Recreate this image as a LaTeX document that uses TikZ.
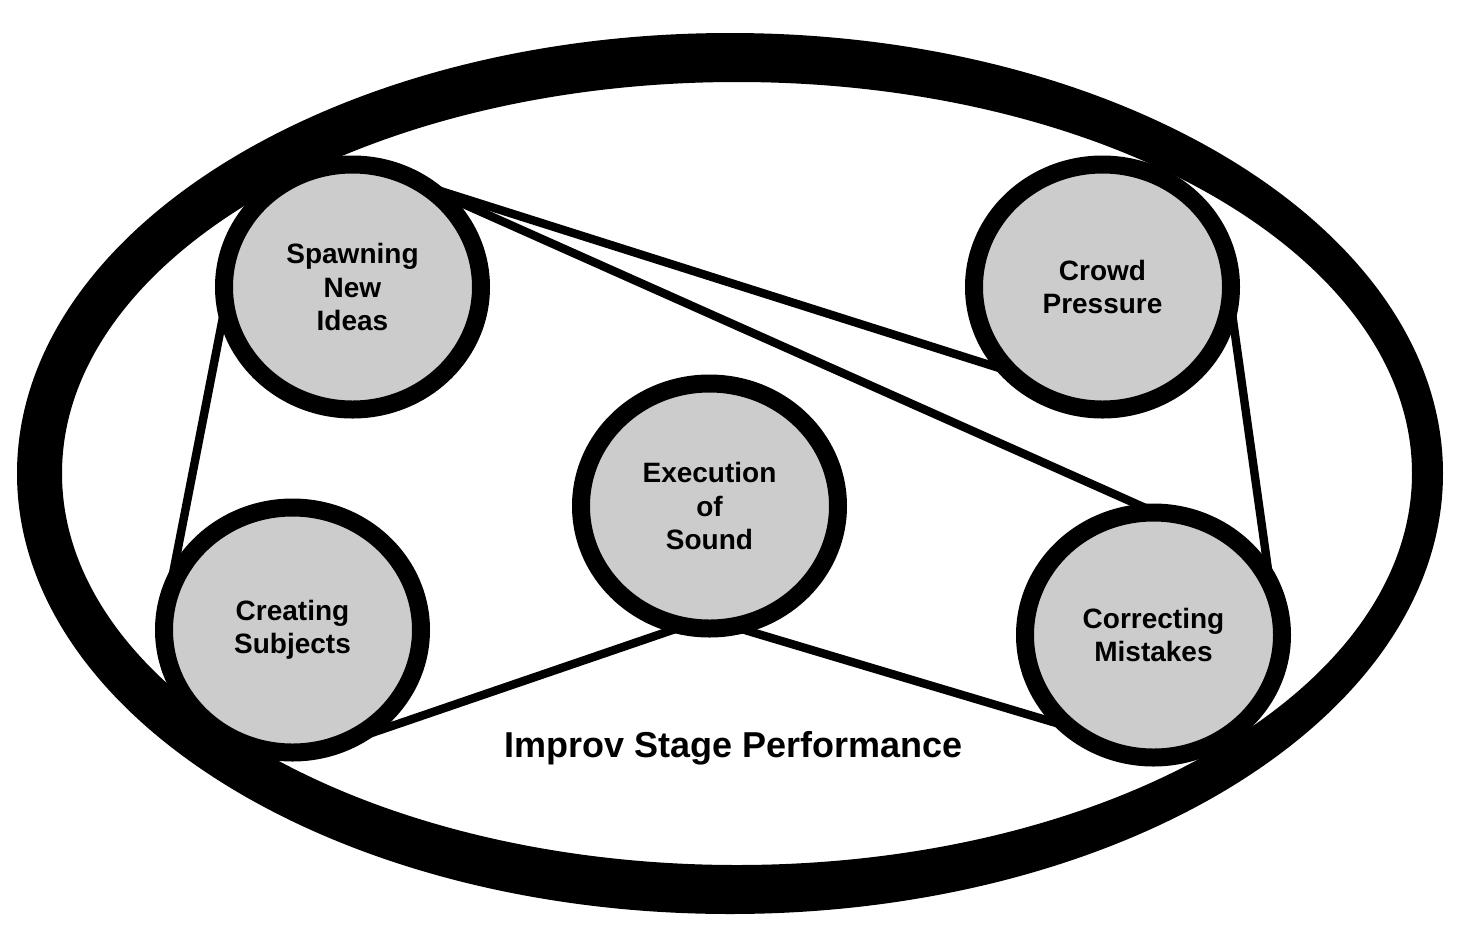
\documentclass[tikz,border=0pt]{standalone}
\usepackage{fontspec}
\setmainfont{Liberation Sans}
\usetikzlibrary{shapes.geometric,backgrounds}
\definecolor{circfill}{RGB}{204,204,204}
\tikzset{
  topic/.style={ellipse, draw=black, fill=circfill, line width=9pt,
    minimum width=128.5pt, minimum height=122.5pt, inner sep=0pt, outer sep=0pt,
    align=center, font=\fontsize{14}{16.75}\selectfont\bfseries},
  link/.style={draw=black, line width=4.2pt},
  ring/.style={fill=black, even odd rule}
}
\begin{document}
\begin{tikzpicture}[x=0.5pt,y=-0.5pt]
\useasboundingbox (0,0) rectangle (1464,944);
\fill[ring] (730,473.5) ellipse [x radius=713, y radius=440.5]
            (737,473.5) ellipse [x radius=675, y radius=391.5];
\node[topic] (sp) at (352.5,287) {Spawning\\New\\Ideas};
\node[topic] (cp) at (1102.5,287) {Crowd\\Pressure};
\node[topic] (ex) at (709.5,506) {Execution\\of\\Sound};
\node[topic] (cs) at (292.5,630) {Creating\\Subjects};
\node[topic] (cm) at (1153.5,635) {Correcting\\Mistakes};
\node[font=\fontsize{18}{22}\selectfont\bfseries] (title) at (733.5,748) {Improv Stage Performance};
\begin{pgfonlayer}{background}
\draw[link] (sp.54) -- (cp.222);
\draw[link] (sp.52) -- (cm.89);
\draw[link] (sp.188) -- (cs.173);
\draw[link] (cp.354) -- (cm.24);
\draw[link] (ex.258) -- (cs.293);
\draw[link] (ex.281) -- (cm.227);
\end{pgfonlayer}
\end{tikzpicture}
\end{document}
